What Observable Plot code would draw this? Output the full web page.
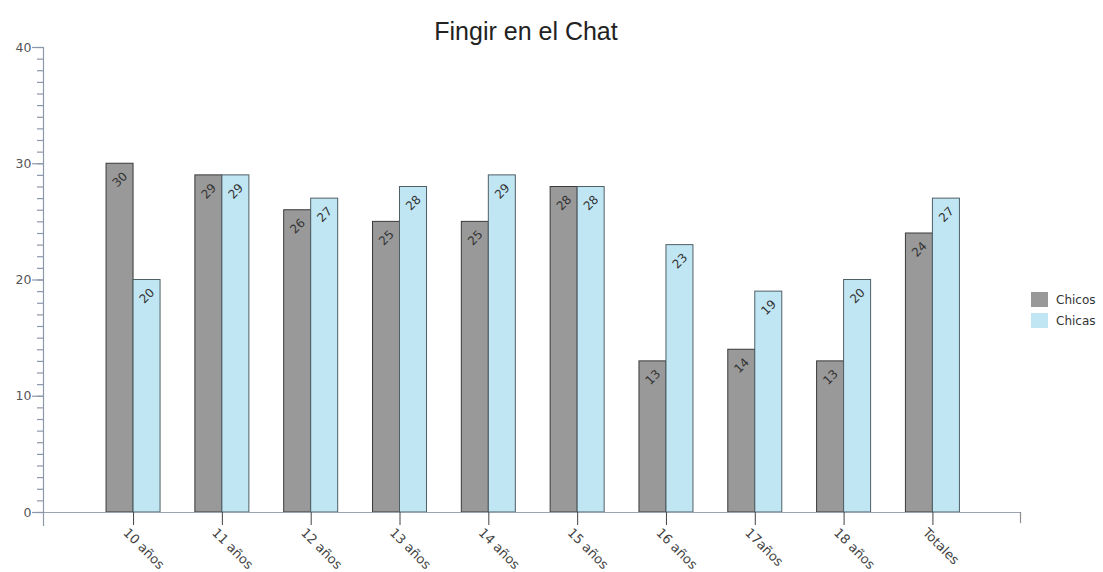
<!DOCTYPE html>
<html>
<head>
<meta charset="utf-8">
<script src="https://cdn.jsdelivr.net/npm/d3@7"></script>
<script src="https://cdn.jsdelivr.net/npm/@observablehq/plot@0.6"></script>
<style>
  html, body { margin: 0; padding: 0; background: #fff; }
  #wrap { position: relative; width: 1103px; height: 572px; overflow: hidden; }
  #legend { position: absolute; left: 1031px; top: 289px; font-family: "DejaVu Sans", Verdana, sans-serif; font-size: 12px; color: #333; }
  .item { display: flex; align-items: center; height: 21px; }
  .sw { width: 17px; height: 15px; margin-right: 8px; }
</style>
</head>
<body>
<div id="wrap"></div>
<script>
const categories = ["10 años", "11 años", "12 años", "13 años", "14 años", "15 años", "16 años", "17años", "18 años", "Totales"];
const chicos = [30, 29, 26, 25, 25, 28, 13, 14, 13, 24];
const chicas = [20, 29, 27, 28, 29, 28, 23, 19, 20, 27];
const seriesNames = ["Chicos", "Chicas"];
const seriesColors = ["#999999", "#c1e6f3"];
const majorTicks = [0, 10, 20, 30, 40];
const minorTicks = d3.range(0, 41, 1);

const rowsChicos = categories.map((c, i) => ({cat: c, v: chicos[i]}));
const rowsChicas = categories.map((c, i) => ({cat: c, v: chicas[i]}));

const font = "DejaVu Sans, Verdana, sans-serif";
const half = 27;

const chart = Plot.plot({
  width: 1103,
  height: 572,
  marginTop: 47,
  marginBottom: 60,
  marginLeft: 43,
  marginRight: 83,
  style: {background: "#fff", fontFamily: font},
  x: {type: "band", domain: categories, paddingInner: 0.392, paddingOuter: 0.696, align: 0.51, round: false, axis: null},
  y: {domain: [0, 40], axis: null},
  marks: [
    Plot.barY(rowsChicos, {x: "cat", y: "v", fill: seriesColors[0], stroke: "#3a3a3a", strokeWidth: 1, insetRight: half}),
    Plot.barY(rowsChicas, {x: "cat", y: "v", fill: seriesColors[1], stroke: "#4f5f66", strokeWidth: 1, insetLeft: half}),
    // axis lines
    Plot.frame({anchor: "bottom", stroke: "#9aa3b0", strokeWidth: 1.2}),
    Plot.frame({anchor: "left", stroke: "#8d98aa", strokeWidth: 1.2, insetBottom: -13}),
    Plot.frame({anchor: "right", stroke: "#8d8d8d", strokeWidth: 1.2, insetTop: 465, insetBottom: -10}),
    // y axis ticks
    Plot.axisY({ticks: minorTicks, tickSize: 6, text: null, label: null, stroke: "#8d98aa", strokeWidth: 1.2}),
    Plot.axisY({ticks: majorTicks, tickSize: 11, tickPadding: 1, label: null, stroke: "#8d98aa", strokeWidth: 1.2, fontSize: 12.5, fill: "#555", tickFormat: d => d}),
    // x ticks
    Plot.axisX({tickSize: 13, text: null, label: null, stroke: "#444", strokeWidth: 1}),
    Plot.text(categories, {x: d => d, frameAnchor: "bottom", dy: 21, dx: -11, rotate: 45, textAnchor: "start", fontSize: 13, fill: "#444", fontFamily: font}),
    // value labels
    Plot.text(rowsChicos, {x: "cat", y: "v", text: d => String(d.v), dx: -13.5, dy: 16, rotate: -45, fontSize: 12, fill: "#333", fontFamily: font}),
    Plot.text(rowsChicas, {x: "cat", y: "v", text: d => String(d.v), dx: 13.5, dy: 16, rotate: -45, fontSize: 12, fill: "#333", fontFamily: font}),
    // title
    Plot.text(["Fingir en el Chat"], {frameAnchor: "top", dy: -25, dx: -6, fontSize: 25, fill: "#222", fontFamily: "Liberation Sans, Arial, sans-serif"})
  ]
});

const wrap = document.getElementById("wrap");
wrap.appendChild(chart);

const legend = document.createElement("div");
legend.id = "legend";
seriesNames.forEach((n, i) => {
  const item = document.createElement("div");
  item.className = "item";
  const sw = document.createElement("div");
  sw.className = "sw";
  sw.style.background = seriesColors[i];
  const t = document.createElement("span");
  t.textContent = n;
  item.appendChild(sw);
  item.appendChild(t);
  legend.appendChild(item);
});
wrap.appendChild(legend);
</script>
</body>
</html>
